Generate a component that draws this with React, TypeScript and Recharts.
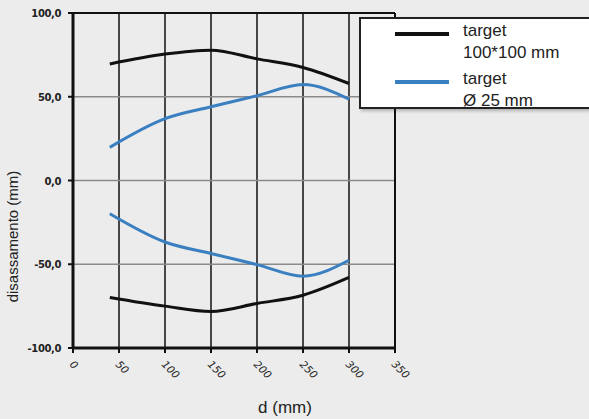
import React from 'react';
import {
  LineChart,
  Line,
  XAxis,
  YAxis,
  CartesianGrid,
  ReferenceLine,
} from 'recharts';

// distance (mm) and lateral offset (mm)
const distances = [40, 100, 150, 200, 250, 300];
const squareUpper = [69.6, 75.5, 77.8, 72.6, 67.5, 57.9];
const squareLower = [-69.8, -75.0, -78.2, -73.4, -68.5, -57.9];
const roundUpper = [19.8, 36.9, 44.0, 50.6, 57.3, 48.6];
const roundLower = [-19.8, -36.7, -43.6, -50.2, -57.1, -47.6];

const xTicks = [0, 50, 100, 150, 200, 250, 300, 350];
const yTicks = [-100, -50, 0, 50, 100];

const BLACK = '#111111';
const BLUE = '#3a7fc0';

const legendItems = [
  { color: BLACK, lines: ['target', '100*100 mm'] },
  { color: BLUE, lines: ['target', 'Ø 25 mm'] },
];

const chartData = distances.map((d, i) => ({
  d,
  squareUpper: squareUpper[i],
  squareLower: squareLower[i],
  roundUpper: roundUpper[i],
  roundLower: roundLower[i],
}));

const fmt = (v: number) => v.toFixed(1).replace('.', ',');

function XTick({ x, y, payload }: any) {
  return (
    <text
      x={x - 4}
      y={y + 10}
      transform={`rotate(45, ${x - 4}, ${y + 10})`}
      fontFamily="DejaVu Sans"
      fontStyle="italic"
      fontSize={10.5}
      fill="#222"
    >
      {payload.value}
    </text>
  );
}

function YTick({ x, y, payload }: any) {
  return (
    <text
      x={x - 5}
      y={y + 4}
      textAnchor="end"
      fontFamily="DejaVu Sans"
      fontWeight="bold"
      fontSize={10}
      letterSpacing={-0.4}
      fill="#222"
    >
      {fmt(payload.value)}
    </text>
  );
}

function LegendBox() {
  return (
    <div
      style={{
        position: 'absolute',
        left: 359,
        top: 17,
        width: 230,
        height: 92,
        boxSizing: 'border-box',
        background: '#fff',
        border: '2px solid #222',
        borderRight: 'none',
        boxShadow: '2px 2px 3px rgba(0,0,0,0.25)',
        fontFamily: 'Liberation Sans, Arial, sans-serif',
        fontSize: 17,
        color: '#222',
      }}
    >
      {legendItems.map((item, i) => (
        <div key={i} style={{ position: 'absolute', left: 34, top: 1 + i * 48, display: 'flex' }}>
          <div style={{ width: 54, height: 4, background: item.color, marginTop: 12, marginRight: 14 }} />
          <div style={{ lineHeight: '22px' }}>
            {item.lines.map((t) => (
              <div key={t}>{t}</div>
            ))}
          </div>
        </div>
      ))}
    </div>
  );
}

export default function App() {
  return (
    <div style={{ position: 'fixed', left: 0, top: 0, width: 589, height: 419, background: '#ececec' }}>
      <LineChart width={589} height={419} data={chartData} margin={{ top: 13, right: 194, bottom: 0, left: 0 }}>
        <CartesianGrid horizontal={false} stroke={BLACK} strokeWidth={1.5} />
        <CartesianGrid vertical={false} stroke="#8a8a8a" strokeWidth={1.5} />
        <ReferenceLine y={100} stroke={BLACK} strokeWidth={2} />
        <ReferenceLine x={350} stroke={BLACK} strokeWidth={2} />
        <XAxis
          type="number"
          dataKey="d"
          domain={[0, 350]}
          ticks={xTicks}
          height={71}
          axisLine={{ stroke: BLACK, strokeWidth: 3 }}
          tickLine={{ stroke: BLACK, strokeWidth: 2 }}
          tickSize={5}
          tick={<XTick />}
          interval={0}
          label={{
            value: 'd (mm)',
            position: 'insideBottom',
            dx: 51,
            offset: 6,
            style: { fontFamily: 'Liberation Sans, Arial, sans-serif', fontSize: 17, fill: '#222' },
          }}
        />
        <YAxis
          type="number"
          domain={[-100, 100]}
          ticks={yTicks}
          width={73}
          axisLine={{ stroke: BLACK, strokeWidth: 3 }}
          tickLine={{ stroke: BLACK, strokeWidth: 2 }}
          tickSize={5}
          tick={<YTick />}
          interval={0}
          label={{
            value: 'disassamento (mm)',
            angle: -90,
            position: 'insideLeft',
            dx: 8,
            dy: 56,
            style: { textAnchor: 'middle', fontFamily: 'Liberation Sans, Arial, sans-serif', fontSize: 15, fill: '#222' },
          }}
        />
        <Line type="monotone" dataKey="squareUpper" stroke={BLACK} strokeWidth={3} dot={false} isAnimationActive={false} />
        <Line type="monotone" dataKey="squareLower" stroke={BLACK} strokeWidth={3} dot={false} isAnimationActive={false} />
        <Line type="monotone" dataKey="roundUpper" stroke={BLUE} strokeWidth={3} dot={false} isAnimationActive={false} />
        <Line type="monotone" dataKey="roundLower" stroke={BLUE} strokeWidth={3} dot={false} isAnimationActive={false} />
      </LineChart>
      <LegendBox />
    </div>
  );
}
